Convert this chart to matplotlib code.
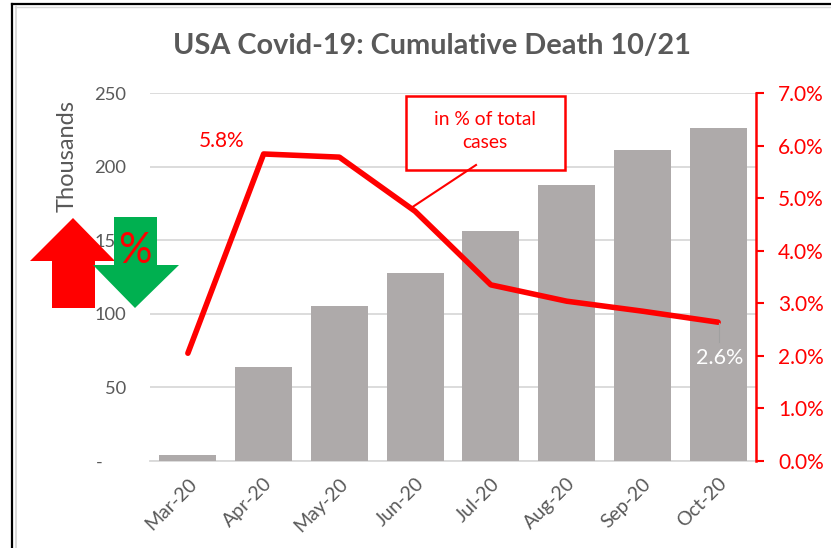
#!/usr/bin/env python3
import matplotlib
matplotlib.use("Agg")
import matplotlib.pyplot as plt
from matplotlib.lines import Line2D
from matplotlib.patches import Polygon, Rectangle
from matplotlib.ticker import FuncFormatter

MONTHS = ["Mar-20", "Apr-20", "May-20", "Jun-20", "Jul-20", "Aug-20", "Sep-20", "Oct-20"]
DEATHS_K = [4, 64, 105, 128, 156, 187.5, 211, 226.5]
PCT_OF_CASES = [2.05, 5.84, 5.78, 4.75, 3.35, 3.04, 2.85, 2.64]
LEFT_TICKS = [0, 50, 100, 150, 200, 250]
RIGHT_TICKS = [0, 1, 2, 3, 4, 5, 6, 7]

W, H = 831, 548
GREY = "#595959"
RED = "#ff0000"
GREEN = "#00b050"

plt.rcParams["font.family"] = ["Lato", "DejaVu Sans"]


def fx(x):
    return x / W


def fy(y):
    return 1 - y / H


def add_shape(fig, pts, color, zorder=10):
    fig.add_artist(Polygon([(fx(x), fy(y)) for x, y in pts], closed=True, facecolor=color,
                           edgecolor="none", transform=fig.transFigure, zorder=zorder))


def add_line(fig, xs, ys, color, lw, zorder=10):
    fig.add_artist(Line2D([fx(x) for x in xs], [fy(y) for y in ys], color=color, linewidth=lw,
                          transform=fig.transFigure, zorder=zorder))


def main():
    fig = plt.figure(figsize=(W / 100, H / 100), dpi=100, facecolor="white")
    ax = fig.add_axes([fx(150), fy(461), fx(606), (461 - 93) / H])

    xs = list(range(len(MONTHS)))
    ax.bar(xs, DEATHS_K, width=0.75, color="#aeaaaa", zorder=3)
    ax.set_xlim(-0.5, 7.5)
    ax.set_ylim(0, 250)
    ax.set_yticks(LEFT_TICKS)
    # accounting style zero, the dash sits inset from the other labels
    ax.yaxis.set_major_formatter(FuncFormatter(lambda v, _: "-\u00a0\u00a0\u00a0\u00a0\u00a0" if v == 0 else f"{v:.0f}"))
    ax.set_xticks(xs)
    ax.set_xticklabels(MONTHS, rotation=45, ha="right", rotation_mode="anchor")
    ax.tick_params(axis="x", length=0, pad=10, labelsize=14, labelcolor=GREY)
    ax.tick_params(axis="y", length=0, pad=17, labelsize=13.2, labelcolor=GREY)
    ax.grid(axis="y", color="#d9d9d9", linewidth=1.3, zorder=0)
    ax.set_axisbelow(True)
    for side in ("top", "left", "right"):
        ax.spines[side].set_visible(False)
    ax.spines["bottom"].set_color("#d9d9d9")
    ax.spines["bottom"].set_linewidth(1.3)
    ax.set_ylabel("Thousands", fontsize=17, color=GREY, va="center")
    ax.yaxis.set_label_coords((67 - 150) / 606, (461 - 156) / (461 - 93))

    ax2 = ax.twinx()
    ax2.plot(xs, PCT_OF_CASES, color=RED, linewidth=4, solid_capstyle="round", zorder=5)
    ax2.set_ylim(0, 7)
    ax2.set_yticks(RIGHT_TICKS)
    ax2.yaxis.set_major_formatter(FuncFormatter(lambda v, _: f"{v:.1f}%"))
    ax2.tick_params(axis="y", colors=RED, length=6, width=1.5, pad=10, labelsize=15)
    for side in ("top", "left", "bottom"):
        ax2.spines[side].set_visible(False)
    ax2.spines["right"].set_color(RED)
    ax2.spines["right"].set_linewidth(1.8)

    fig.text(fx(432), fy(46), "USA Covid-19: Cumulative Death 10/21", ha="center", va="center",
             fontsize=20.8, fontweight="bold", color=GREY)
    fig.text(fx(222), fy(141), "5.8%", ha="center", va="center", fontsize=15, color=RED)
    fig.text(fx(720), fy(358), "2.6%", ha="center", va="center", fontsize=15.5, color="white", zorder=10)
    add_line(fig, [719, 719], [323, 342], "#a0a0a0", 0.8)

    # callout box + leader
    fig.add_artist(Rectangle((fx(406), fy(170)), fx(159), (170 - 96) / H, facecolor="white",
                             edgecolor=RED, linewidth=1.8, transform=fig.transFigure, zorder=9))
    add_line(fig, [476, 411], [165, 208], RED, 1.5)
    fig.text(fx(485), fy(131), "in % of total\ncases", ha="center", va="center", fontsize=13.9,
             color=RED, linespacing=1.4, zorder=10)

    # arrows
    add_shape(fig, [(73, 218), (115, 261), (95, 261), (95, 308), (52, 308), (52, 261), (30, 261)], RED)
    add_shape(fig, [(114, 217), (157, 217), (157, 265), (179, 265), (135, 308), (93, 265), (114, 265)], GREEN)
    fig.text(fx(135), fy(251), "%", ha="center", va="center", fontsize=30, color=RED, zorder=11)

    # outer frame
    add_line(fig, [12, 12], [4, 548], "black", 1.6, zorder=12)
    add_line(fig, [12, 831], [4, 4], "black", 1.6, zorder=12)
    add_line(fig, [15.5, 15.5], [6, 548], "#d9d9d9", 1.4, zorder=12)
    add_line(fig, [15, 831], [6.5, 6.5], "#d9d9d9", 1.0, zorder=12)

    fig.savefig("out.png", dpi=100)
    plt.close(fig)


if __name__ == "__main__":
    main()
